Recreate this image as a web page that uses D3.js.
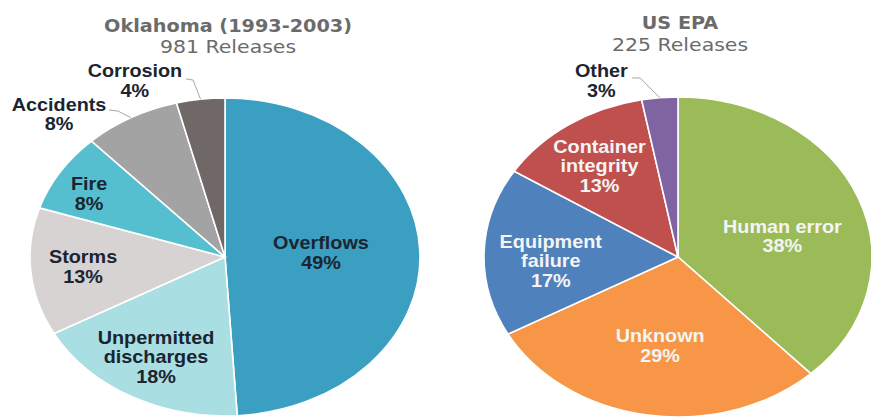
<!DOCTYPE html>
<html>
<head>
<meta charset="utf-8">
<script src="https://cdn.jsdelivr.net/npm/d3@7"></script>
<style>
  html, body { margin: 0; padding: 0; background: #ffffff; }
  svg { display: block; }
</style>
</head>
<body>
<svg id="chart" width="871" height="417"></svg>
<script>
// ---- data ----
const okTitle = ["Oklahoma (1993-2003)", "981 Releases"];
const okCategories = ["Overflows", "Unpermitted discharges", "Storms", "Fire", "Accidents", "Corrosion"];
const okValues = [49, 18, 13, 8, 8, 4];

const epaTitle = ["US EPA", "225 Releases"];
const epaCategories = ["Human error", "Unknown", "Equipment failure", "Container integrity", "Other"];
const epaValues = [38, 29, 17, 13, 3];

// ---- styling / layout ----
const okColors = ["#3a9fc0", "#a9dee2", "#d8d3d3", "#55bfcf", "#a3a3a3", "#6f6867"];
const epaColors = ["#9bbb59", "#f79646", "#4f81bd", "#c0504d", "#8064a2"];

// label line breaks
const okLines = [["Overflows"], ["Unpermitted", "discharges"], ["Storms"], ["Fire"], ["Accidents"], ["Corrosion"]];
const epaLines = [["Human error"], ["Unknown"], ["Equipment", "failure"], ["Container", "integrity"], ["Other"]];

// label block centres in pie-unit coordinates (fraction of radius from the centre)
const okLabelAt = [[0.492, -0.028], [-0.354, 0.626], [-0.728, 0.060], [-0.697, -0.399], [-0.851, -0.899], [-0.462, -1.110]];
const epaLabelAt = [[0.538, -0.131], [-0.092, 0.553], [-0.656, 0.022], [-0.405, -0.569], [-0.395, -1.103]];

// leader lines for outside labels: [sliceIndex, elbow, end] in unit coordinates
const okLeaders = [[4, [-0.549, -0.918], [-0.595, -0.925]], [5, [-0.164, -1.113], [-0.2, -1.12]]];
const epaLeaders = [[4, [-0.195, -1.119], [-0.236, -1.119]]];

const svg = d3.select("#chart");
const labelFont = "'Liberation Sans', Arial, sans-serif";
const titleFont = "'DejaVu Sans', 'Open Sans', sans-serif";
const stretch = 1.1;
const titleStretch = [1.1, 1.17];
const titleGap = 21.5;
const lineH = 19.5;
const capH = 13;

function drawPie(cfg) {
  const { cx, cy, rx, ry, vals, colors, lines, labelAt, leaders, textColor, title, titleX, titleY } = cfg;

  const pie = d3.pie().sort(null).value(d => d)(vals);
  const arc = d3.arc().innerRadius(0).outerRadius(ry);
  const sx = d3.scaleLinear().domain([-1, 1]).range([cx - rx, cx + rx]);
  const sy = d3.scaleLinear().domain([-1, 1]).range([cy - ry, cy + ry]);

  const g = svg.append("g").attr("transform", `translate(${cx},${cy}) scale(${rx / ry},1)`);
  g.selectAll("path").data(pie).join("path")
    .attr("d", arc)
    .attr("fill", (d, i) => colors[i])
    .attr("stroke", "#ffffff")
    .attr("stroke-width", 1.6)
    .attr("vector-effect", "non-scaling-stroke");

  // leader lines from the slice edge to the outside label
  const lineGen = d3.line();
  leaders.forEach(([i, elbow, end]) => {
    const a = (pie[i].startAngle + pie[i].endAngle) / 2;
    const edge = [sx(Math.sin(a)), sy(-Math.cos(a))];
    svg.append("path")
      .attr("d", lineGen([edge, [sx(elbow[0]), sy(elbow[1])], [sx(end[0]), sy(end[1])]]))
      .attr("fill", "none")
      .attr("stroke", "#a6a6a6")
      .attr("stroke-width", 1);
  });

  // slice labels: name lines + percentage (dark text when placed outside the pie)
  pie.forEach((d, i) => {
    const rows = lines[i].concat([d.data + "%"]);
    const [ux, uy] = labelAt[i];
    const x = sx(ux);
    const yc = sy(uy);
    const y0 = yc - (rows.length - 1) * lineH / 2 + capH / 2;
    const outside = ux * ux + uy * uy > 1;
    const t = svg.append("text")
      .attr("transform", `translate(${x},${y0}) scale(${stretch},1)`)
      .attr("text-anchor", "middle")
      .attr("font-family", labelFont)
      .attr("font-weight", "bold")
      .attr("font-size", 18)
      .attr("fill", outside ? "#1b2530" : textColor);
    rows.forEach((r, k) => {
      t.append("tspan").attr("x", 0).attr("y", k * lineH).text(r);
    });
  });

  // two-line title, one text element per line
  title.forEach((line, k) => {
    svg.append("text")
      .attr("transform", `translate(${titleX},${titleY + k * titleGap}) scale(${titleStretch[k]},1)`)
      .attr("text-anchor", "middle")
      .attr("font-family", titleFont)
      .attr("font-size", 17.5)
      .attr("font-weight", k === 0 ? 700 : 400)
      .attr("fill", "#6b6b6b")
      .text(line);
  });
}

drawPie({
  cx: 225, cy: 257, rx: 195, ry: 159,
  vals: okValues, colors: okColors, lines: okLines,
  labelAt: okLabelAt, leaders: okLeaders, textColor: "#1b2530",
  title: okTitle, titleX: 228, titleY: 31.5
});

drawPie({
  cx: 678, cy: 257, rx: 194, ry: 160,
  vals: epaValues, colors: epaColors, lines: epaLines,
  labelAt: epaLabelAt, leaders: epaLeaders, textColor: "#f4f4f4",
  title: epaTitle, titleX: 680, titleY: 29
});
</script>
</body>
</html>
